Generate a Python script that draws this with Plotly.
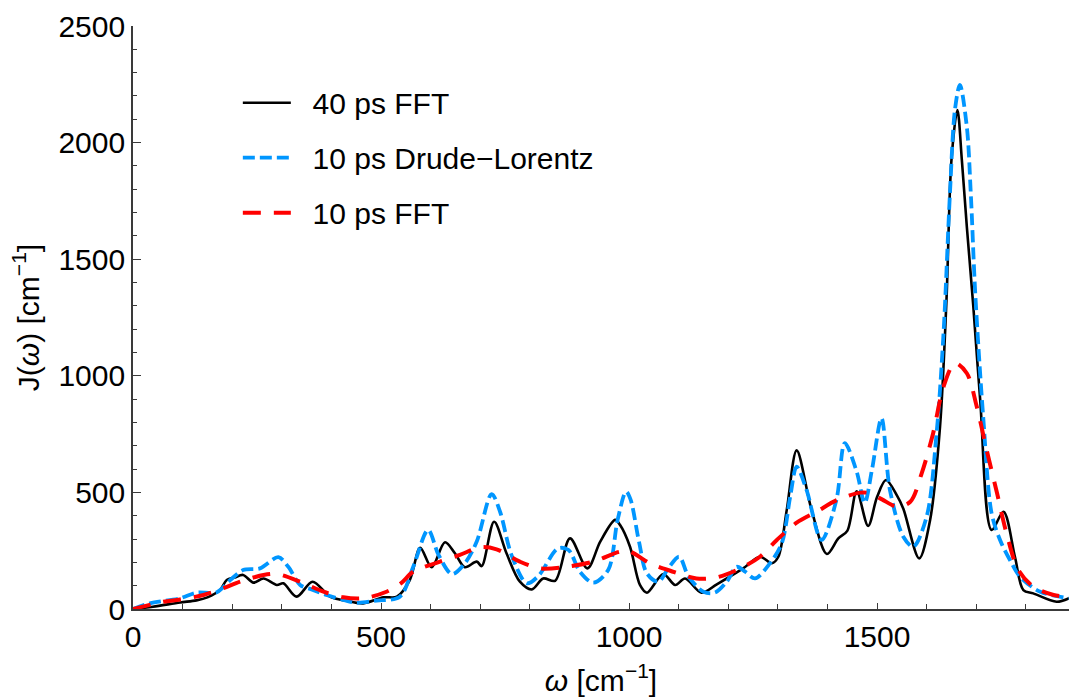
import plotly.graph_objects as go

# Spectral density J(omega) in cm^-1, three estimates
w_fft40 = [0, 40, 95, 128, 150, 175, 189, 205, 222, 243, 263, 290, 303, 330, 362, 397,
           430, 464, 505, 532, 558, 579, 602, 629, 649, 669, 693, 703, 728, 753, 780,
           804, 827, 851, 881, 916, 942, 972, 982, 1002, 1022, 1036, 1069, 1093, 1113,
           1146, 1177, 1230, 1264, 1288, 1301, 1318, 1338, 1368, 1399, 1422, 1440, 1459,
           1482, 1500, 1518, 1540, 1553, 1585, 1607, 1627, 1640, 1650, 1662, 1671, 1681,
           1694, 1708, 1731, 1755, 1778, 1795, 1815, 1862, 1887]
j_fft40 = [0, 10, 28, 37, 50, 81, 124, 135, 146, 113, 131, 103, 110, 53, 117, 53,
           35, 24, 50, 53, 124, 262, 179, 286, 239, 179, 203, 184, 374, 239, 117,
           84, 131, 121, 303, 174, 289, 382, 360, 267, 103, 70, 150, 103, 131,
           70, 106, 174, 224, 196, 224, 425, 680, 425, 236, 303, 335, 505,
           356, 480, 553, 487, 430, 217, 382, 782, 1325, 1925, 2140, 1925, 1640,
           1300, 896, 339, 417, 224, 81, 67, 31, 46]

w_dl10 = [0, 34, 95, 128, 169, 196, 222, 256, 293, 313, 337, 360, 390, 424, 451, 491,
          538, 565, 595, 616, 643, 669, 693, 723, 740, 763, 794, 817, 857, 878, 901,
          928, 958, 977, 994, 1003, 1020, 1036, 1059, 1079, 1101, 1120, 1150, 1173,
          1197, 1217, 1234, 1254, 1284, 1308, 1325, 1338, 1358, 1388, 1418, 1435,
          1459, 1475, 1490, 1509, 1526, 1553, 1573, 1600, 1620, 1634, 1647, 1657,
          1667, 1681, 1689, 1698, 1714, 1731, 1748, 1768, 1788, 1829, 1887]
j_dl10 = [0, 24, 46, 70, 72, 124, 167, 174, 222, 181, 103, 84, 60, 39, 27, 36,
          53, 181, 339, 232, 150, 196, 289, 493, 417, 232, 110, 141, 260, 253, 160,
          113, 167, 382, 503, 470, 290, 153, 117, 174, 224, 139, 74, 70,
          117, 181, 160, 131, 196, 282, 482, 610, 510, 296, 467, 711,
          589, 455, 600, 818, 510, 310, 267, 396, 753, 1182, 1782, 2140,
          2247, 2068, 1782, 1354, 825, 410, 296, 210, 139, 74, 46]

w_fft10 = [0, 61, 95, 142, 182, 216, 263, 290, 337, 384, 424, 464, 511, 540, 565, 619,
           659, 700, 733, 780, 821, 874, 928, 982, 1002, 1042, 1083, 1136, 1177, 1224,
           1264, 1298, 1338, 1378, 1419, 1466, 1486, 1510, 1540, 1567, 1590, 1613,
           1634, 1657, 1681, 1701, 1721, 1742, 1761, 1785, 1815, 1856, 1887]
j_fft10 = [0, 31, 41, 60, 89, 117, 146, 150, 117, 74, 50, 46, 74, 110, 160, 203,
           232, 265, 256, 203, 174, 181, 203, 246, 246, 196, 164, 131, 136, 174,
           224, 296, 370, 417, 467, 499, 496, 470, 439, 460, 582, 753,
           953, 1054, 1011, 868, 682, 496, 325, 167, 96, 60, 53]

series_names = ["40 ps FFT", "10 ps Drude\u2212Lorentz", "10 ps FFT"]

FONT = "Liberation Sans, Arial, Helvetica, sans-serif"
FS = 30
PAD = "\u00a0\u00a0"  # gap between legend swatch and label

fig = go.Figure()
fig.add_trace(go.Scatter(
    x=w_fft40, y=j_fft40, mode="lines", name=PAD + series_names[0], legendgroup="a",
    line=dict(color="black", width=2.6, shape="spline", smoothing=0.9)))
fig.add_trace(go.Scatter(
    x=w_dl10, y=j_dl10, mode="lines", name=PAD + series_names[1], legendgroup="b",
    line=dict(color="#0096ff", width=3.8, dash="12px,5px", shape="spline", smoothing=0.9)))
fig.add_trace(go.Scatter(
    x=w_fft10, y=j_fft10, mode="lines", name=PAD + series_names[2], legendgroup="c",
    line=dict(color="#ff0000", width=4, dash="18px,13px", shape="spline", smoothing=0.9)))

axis_common = dict(
    showgrid=False, zeroline=False, showline=True, linecolor="#3a3a3a", linewidth=1.6,
    ticks="inside", tickcolor="#3a3a3a", tickwidth=1.4,
    tickfont=dict(family=FONT, size=FS, color="black"),
    mirror=False,
)

fig.update_xaxes(
    range=[0, 1887], tickvals=[0, 500, 1000, 1500], ticklen=6,
    minor=dict(dtick=100, tick0=0, ticks="inside", ticklen=5, tickcolor="#3a3a3a", tickwidth=1.2),
    title=dict(text="<i>\u03c9</i> [cm<sup>\u22121</sup>]", font=dict(family=FONT, size=FS, color="black"),
               standoff=18),
    **axis_common)
fig.update_yaxes(
    range=[0, 2500], tickvals=[0, 500, 1000, 1500, 2000, 2500], ticklen=8,
    minor=dict(dtick=100, tick0=0, ticks="inside", ticklen=4, tickcolor="#3a3a3a", tickwidth=1.2),
    title=dict(text="J(<i>\u03c9</i>) [cm<sup>\u22121</sup>]", font=dict(family=FONT, size=FS, color="black"),
               standoff=10),
    **axis_common)

fig.update_layout(
    width=1069, height=700,
    margin=dict(l=133, r=0, t=26, b=91),
    paper_bgcolor="white", plot_bgcolor="white",
    font=dict(family=FONT, size=FS, color="black"),
    legend=dict(x=0.112, y=0.913, xanchor="left", yanchor="top", itemwidth=48,
                bgcolor="rgba(0,0,0,0)", traceorder="grouped", tracegroupgap=13,
                font=dict(family=FONT, size=FS, color="black")),
    showlegend=True,
)

fig.write_html("out.html")
